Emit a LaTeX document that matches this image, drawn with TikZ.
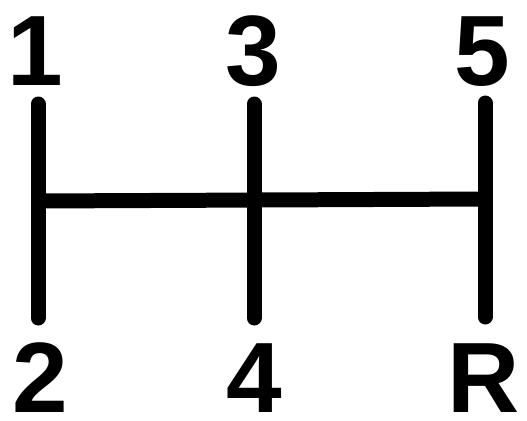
\documentclass[tikz,border=0pt]{standalone}
\usepackage{fontspec}
\setmainfont{Liberation Sans}
\usetikzlibrary{positioning}

\begin{document}
\begin{tikzpicture}[x=1pt, y=-1pt]
    \useasboundingbox (0,0) rectangle (527,420);
    \tikzset{gear/.style={font=\fontsize{100}{100}\selectfont\bfseries, inner sep=0pt,
                          text height=73pt, text depth=0pt, anchor=base},
             rod/.style={line width=15pt, line cap=round}}
    \node[gear] (g1) at (35,85) {1};
    \node[gear] (g3) at (253,85) {3};
    \node[gear] (g5) at (482,85) {5};
    \node[gear] (g2) at (40,412) {2};
    \node[gear] (g4) at (254,412) {4};
    \node[gear] (gR) at (484,412) {R};
    \coordinate (t1) at (38,104);
    \coordinate (t3) at (254,104);
    \coordinate (t5) at (485,103);
    \coordinate (b1) at (38,318);
    \coordinate (b3) at (254,318);
    \coordinate (b5) at (485,317);
    \coordinate (n1) at (38,201);
    \coordinate (n5) at (485,199);
    \draw[rod] (t1) -- (b1);
    \draw[rod] (t3) -- (b3);
    \draw[rod] (t5) -- (b5);
    \draw[rod, line cap=butt] (n1) -- (n5);
\end{tikzpicture}
\end{document}
